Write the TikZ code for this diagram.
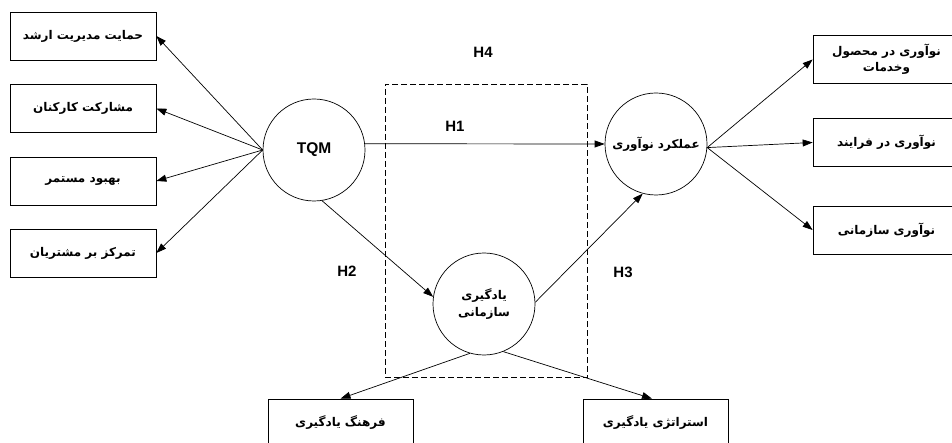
\documentclass[tikz,border=0pt]{standalone}
\usepackage{fontspec}
\setmainfont{Liberation Sans}
\newfontfamily\fa[Script=Arabic]{DejaVu Sans}
\TeXXeTstate=1
\usetikzlibrary{arrows.meta}
\newcommand{\rl}[1]{\beginR #1\endR}
\begin{document}
\begin{tikzpicture}[x=1pt,y=-1pt,
  box/.style={draw, line width=0.7pt, minimum width=146pt, minimum height=48pt, inner sep=0pt, align=center, font=\fa\bfseries\fontsize{12}{16}\selectfont},
  circ/.style={draw, circle, line width=0.7pt, minimum size=102pt, inner sep=0pt, align=center, font=\fa\bfseries\fontsize{12}{17}\selectfont},
  lab/.style={font=\bfseries\fontsize{15}{18}\selectfont, inner sep=0pt},
  arr/.style={-{Triangle[length=10pt,width=7pt]}, line width=0.7pt}]
\useasboundingbox (0,0) rectangle (952,443);
\clip (0,0) rectangle (952,443);
% left boxes
\node[box] (b1) at (83,36) {\rl{حمایت مدیریت ارشد}};
\node[box] (b2) at (83,108.5) {\rl{مشارکت کارکنان}};
\node[box] (b3) at (83,181) {\rl{بهبود مستمر}};
\node[box] (b4) at (83,253) {\rl{تمرکز بر مشتریان}};
% dashed frame
\node[draw, dash pattern=on 6pt off 3pt, line width=0.7pt, minimum width=202pt, minimum height=293pt, inner sep=0pt] (frame) at (486,230.5) {};
% circles
\node[circ, font=\bfseries\fontsize{15.5}{18}\selectfont] (tqm) at (314,150) {TQM};
\node[circ] (inn) at (656,144) {\rl{عملکرد نوآوری}};
\node[circ] (lrn) at (484,304) {\rl{یادگیری}\\\rl{سازمانی}};
% right boxes
\node[box, minimum width=147pt] (r1) at (886.5,59.5) {\rl{نوآوری در محصول}\\\rl{وخدمات}};
\node[box, minimum width=147pt] (r2) at (886.5,142.5) {\rl{نوآوری در فرایند}};
\node[box, minimum width=147pt] (r3) at (886.5,230) {\rl{نوآوری سازمانی}};
% bottom boxes
\node[box, minimum width=145pt] (f1) at (340.5,423) {\rl{فرهنگ یادگیری}};
\node[box, minimum width=145pt] (f2) at (655.5,423) {\rl{استراتژی یادگیری}};
% labels
\node[lab] (h4) at (483,52) {H4};
\node[lab] (h1) at (455,126) {H1};
\node[lab] (h2) at (347,271) {H2};
\node[lab] (h3) at (623,272) {H3};
% connectors
\foreach \b in {b1,b2,b3,b4} \draw[arr] (tqm.west) -- (\b.east);
\draw[arr] (tqm.7) -- (inn.west);
\draw[arr] (tqm.-81) -- (lrn.172);
\draw[arr] (lrn.2) -- (inn.-105);
\foreach \r in {r1,r2,r3} \draw[arr] (inn.-4) -- (\r.west);
\draw[arr] (lrn.-106) -- (f1.north);
\draw[arr] (lrn.-68) -- (f2.north -| 652,0);
\end{tikzpicture}
\end{document}
